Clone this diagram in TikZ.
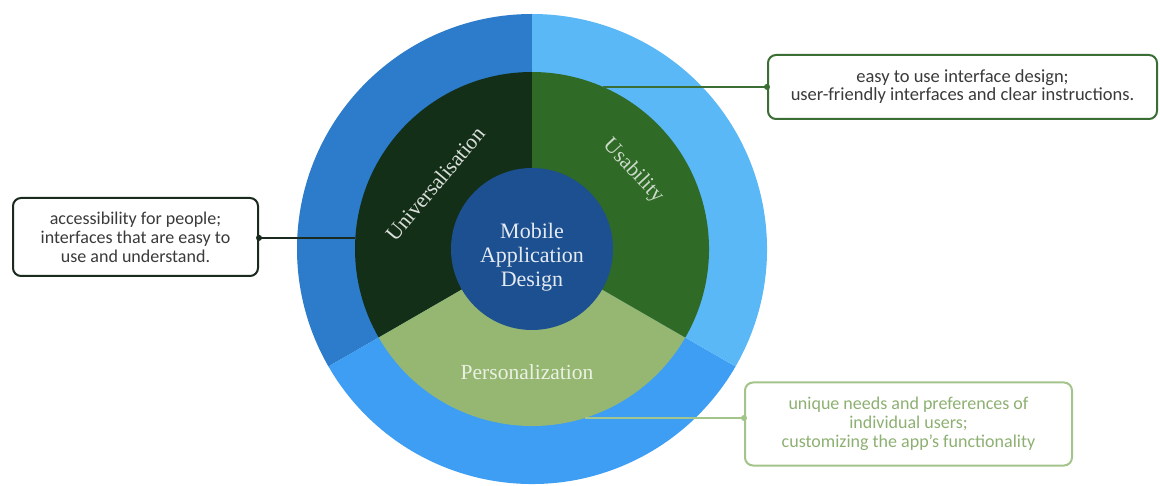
\documentclass[tikz,border=0pt]{standalone}
\usepackage{fontspec}
\setmainfont{Liberation Serif}
\newfontfamily\notefont{Carlito}
\usetikzlibrary{calc}

% ring and sector colours
\definecolor{ringLeft}{HTML}{2C7CCB}
\definecolor{ringRight}{HTML}{5AB8F7}
\definecolor{ringBottom}{HTML}{3D9EF3}
\definecolor{secUniv}{HTML}{142F18}
\definecolor{secUse}{HTML}{2F6A27}
\definecolor{secPers}{HTML}{95B772}
\definecolor{coreBlue}{HTML}{1D5090}
% callout colours
\definecolor{noteDark}{HTML}{1B2A1E}
\definecolor{noteGreen}{HTML}{3B6E34}
\definecolor{noteLight}{HTML}{A3C48A}
\definecolor{noteLightText}{HTML}{8DB072}
\definecolor{noteText}{HTML}{3A3A3A}

\begin{document}
\begin{tikzpicture}[x=1pt,y=1pt,
  note/.style={draw, line width=2pt, rounded corners=8pt, fill=white,
    align=center, inner sep=0pt,
    font=\notefont\fontsize{18}{19}\selectfont},
  seclabel/.style={font=\fontsize{21.5}{24}\selectfont},
  link/.style={line width=2pt},
  tipdot/.style={circle, fill, inner sep=0pt, minimum size=6pt}]
\useasboundingbox (0,0) rectangle (1160,485);
\fill[white] (0,0) rectangle (1160,485);

\begin{scope}[shift={(532,236)}]
  % outer ring, three 120-degree sectors
  \fill[ringLeft] (0,0) -- (90:235) arc[start angle=90, end angle=210, radius=235] -- cycle;
  \fill[ringBottom] (0,0) -- (210:235) arc[start angle=210, end angle=330, radius=235] -- cycle;
  \fill[ringRight] (0,0) -- (-30:235) arc[start angle=-30, end angle=90, radius=235] -- cycle;
  % inner sectors
  \fill[secUniv] (0,0) -- (90:177) arc[start angle=90, end angle=210, radius=177] -- cycle;
  \fill[secPers] (0,0) -- (210:177) arc[start angle=210, end angle=330, radius=177] -- cycle;
  \fill[secUse] (0,0) -- (-30:177) arc[start angle=-30, end angle=90, radius=177] -- cycle;
  % core
  \node[circle, fill=coreBlue, minimum size=162pt, inner sep=0pt] (core) at (0,0) {};
  \node[font=\fontsize{22}{24}\selectfont, text=white!88!coreBlue, align=center] (coretext) at (0,-8)
    {Mobile\\Application\\Design};
  % sector labels
  \node[seclabel, text=white!85!secUniv, rotate=50] (univ) at (-97,65) {Universalisation};
  \node[seclabel, text=white!75!secUse, rotate=-47] (use) at (101,78) {Usability};
  \node[seclabel, text=white!80!secPers] (pers) at (-5,-123) {Personalization};
  % connector anchors on the sector rim
  \coordinate (useRim) at (66.3:177);
  \coordinate (univRim) at (176.4:177);
  \coordinate (persRim) at (-72.7:177);
\end{scope}

% callouts
\node[note, draw=noteGreen, text=noteText, minimum width=389pt, minimum height=64pt,
  font=\notefont\fontsize{18.5}{18}\selectfont]
  (useNote) at (962.5,398) {easy to use interface design;\\user-friendly interfaces and clear instructions.};
\node[note, draw=noteDark, text=noteText, minimum width=245pt, minimum height=78pt]
  (univNote) at (135.5,248) {accessibility for people;\\interfaces that are easy to\\use and understand.};
\node[note, draw=noteLight, text=noteLightText, minimum width=327pt, minimum height=83pt]
  (persNote) at (908.5,61) {unique needs and preferences of\\individual users;\\customizing the app’s functionality};

% connectors
\draw[link, noteGreen] (useRim) -- (useRim -| useNote.west) node[tipdot] (useDot) {};
\draw[link, noteDark] (univRim) -- (univRim -| univNote.east) node[tipdot] (univDot) {};
\draw[link, noteLight] (persRim) -- (persRim -| persNote.west) node[tipdot] (persDot) {};
\end{tikzpicture}
\end{document}
